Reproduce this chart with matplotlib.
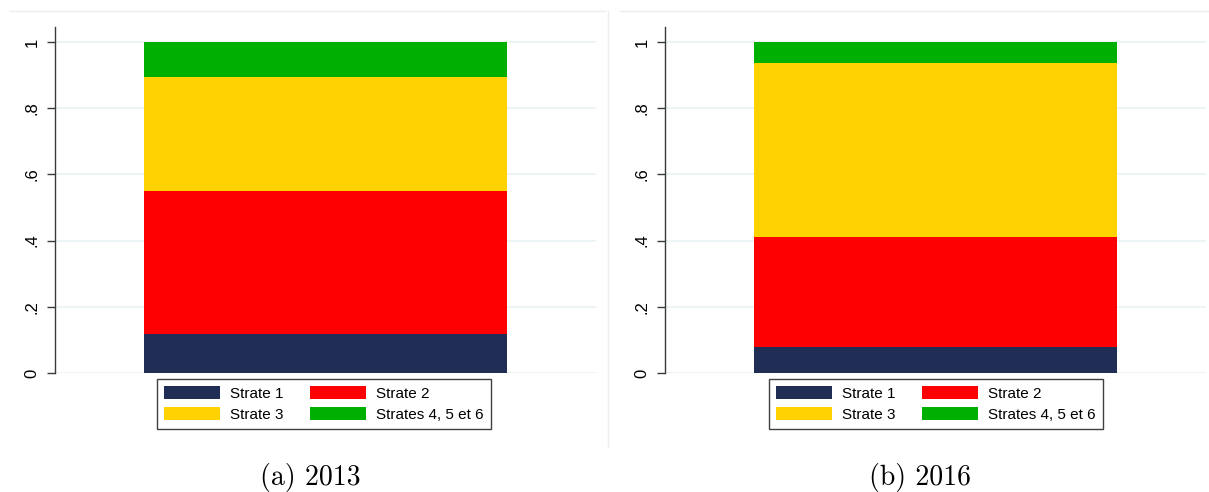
import matplotlib
matplotlib.use("Agg")
import matplotlib.pyplot as plt
import numpy as np
from matplotlib.lines import Line2D

categories = ['Strate 1', 'Strate 2', 'Strate 3', 'Strates 4, 5 et 6']
colors = ['#202d55', '#ff0000', '#ffd200', '#00b000']
share_2013 = [0.117, 0.432, 0.345, 0.106]
share_2016 = [0.079, 0.332, 0.526, 0.063]
captions = ['(a) 2013', '(b) 2016']
yticks = [0, 0.2, 0.4, 0.6, 0.8, 1.0]
ytick_labels = ['0', '.2', '.4', '.6', '.8', '1']

W, H = 1209, 492
fig = plt.figure(figsize=(W / 100, H / 100), dpi=100)

def px(x0, y0, x1, y1):
    # pixel box -> figure fraction [left, bottom, width, height]
    return [x0 / W, 1 - y1 / H, (x1 - x0) / W, (y1 - y0) / H]

panels = [
    (share_2013, px(55, 27, 596, 373), 157, 310),
    (share_2016, px(665, 27, 1206, 373), 769, 920),
]

for i, (shares, box, leg_x, cap_x) in enumerate(panels):
    ax = fig.add_axes(box)
    bottoms = np.concatenate([[0], np.cumsum(shares)[:-1]])
    bars = []
    for lab, v, b, c in zip(categories, shares, bottoms, colors):
        bars.append(ax.bar(0.5, v, bottom=b, width=0.672, color=c, label=lab, linewidth=0))
    ax.set_xlim(0, 1)
    ax.set_ylim(0, 1.045)
    ax.set_yticks(yticks)
    ax.set_yticklabels(ytick_labels, rotation=90, va='center', fontsize=12,
                       family='Liberation Sans')
    ax.set_xticks([])
    for s in ['top', 'right', 'bottom']:
        ax.spines[s].set_visible(False)
    ax.spines['left'].set_color('#3a3a3a')
    ax.spines['left'].set_linewidth(1.0)
    ax.tick_params(axis='y', length=6, width=1, color='#3a3a3a', pad=5)
    ax.yaxis.grid(True, color='#eaf2f3', linewidth=1.2)
    ax.set_axisbelow(True)

    # row-wise order like the original: 1, 2 / 3, 4-6
    order = [0, 2, 1, 3]
    leg = ax.legend([bars[k] for k in order], [categories[k] for k in order],
                    loc='upper left', bbox_to_anchor=(leg_x / W, 1 - 379 / H),
                    bbox_transform=fig.transFigure, borderaxespad=0, ncol=2,
                    prop={'family': 'Liberation Sans', 'size': 11},
                    handlelength=3.7, handleheight=0.95, handletextpad=0.65,
                    columnspacing=1.7, labelspacing=0.4, borderpad=0.45,
                    fancybox=False, framealpha=1, edgecolor='#404040')
    leg.get_frame().set_linewidth(1.0)

    fig.text(cap_x / W, 1 - 478 / H, captions[i], ha='center', va='center',
             family='cmr10', fontsize=20)

# light panel borders
fig.add_artist(Line2D([10 / W, 605 / W], [1 - 11 / H] * 2, color='#eeeeee', lw=1))
fig.add_artist(Line2D([620 / W, 1209 / W], [1 - 11 / H] * 2, color='#eeeeee', lw=1))
fig.add_artist(Line2D([608 / W] * 2, [1 - 11 / H, 1 - 447 / H], color='#eeeeee', lw=1))

fig.savefig('out.png', dpi=100)
